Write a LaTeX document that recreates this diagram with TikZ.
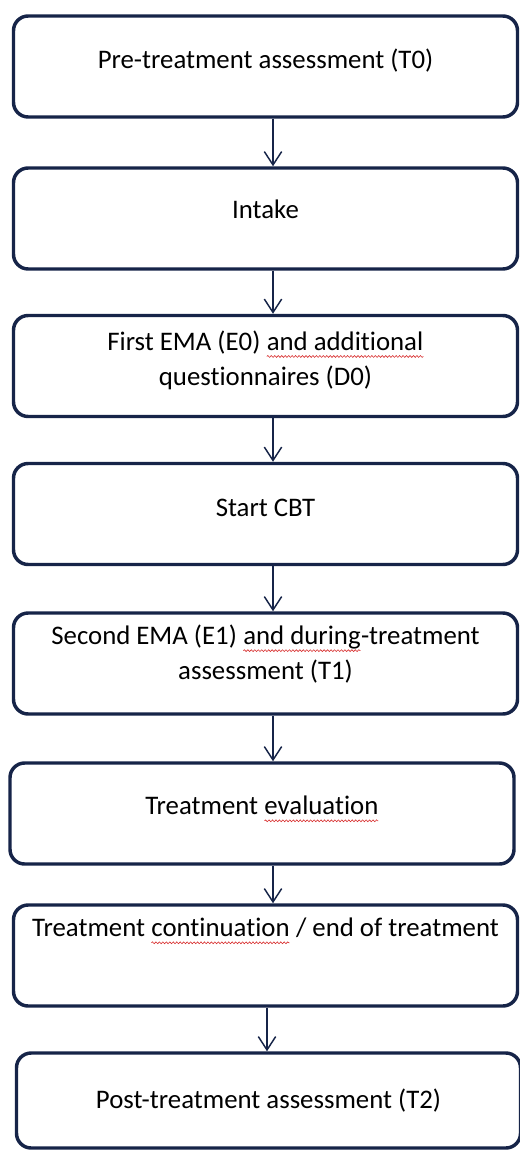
\documentclass[tikz,border=0pt]{standalone}
\usepackage{fontspec}
\setmainfont{Carlito}[Ligatures=NoCommon]
\usetikzlibrary{arrows.meta,decorations.pathmorphing}
\definecolor{boxnavy}{RGB}{22,36,72}
\definecolor{spellred}{RGB}{215,45,45}
\newcommand\spellwave[1]{\tikz[baseline=(w.base),x=1cm,y=1cm]{\node[draw=none,inner sep=0pt,outer sep=0pt,minimum width=0pt,minimum height=0pt,text depth=,text height=,align=left] (w) {#1};
    \draw[spellred,line width=0.45pt,rounded corners=0pt,decorate,decoration={snake,amplitude=0.7pt,segment length=2.6pt}] ([yshift=-4.5pt]w.base west) -- ([yshift=-4.5pt]w.base east);}}
\begin{document}
\begin{tikzpicture}[x=0.75pt,y=-0.75pt,font=\fontsize{20.1}{26}\selectfont,
    stagebox/.style={draw=boxnavy,line width=2.6pt,rounded corners=11pt,minimum width=378pt,minimum height=75.75pt,align=center,inner sep=0pt},
    flow/.style={-{Straight Barb[length=10pt,width=13pt]},draw=boxnavy,line width=1.1pt}]
    \useasboundingbox (0,0) rectangle (520,1151);
    \def\xc{265.5} \def\ax{273}
    \node[stagebox,text depth=11pt] (pre) at (\xc,66.5) {Pre-treatment assessment (T0)};
    \node[stagebox,text depth=14pt] (intake) at (\xc,218.5) {Intake};
    \node[stagebox,text depth=12pt] (ema0) at (\xc,366) {First EMA (E0) \spellwave{and additional}\\questionnaires (D0)};
    \node[stagebox,text depth=10pt] (cbt) at (\xc,514) {Start CBT};
    \node[stagebox,text depth=17pt] (ema1) at (\xc,663.5) {Second EMA (E1) \spellwave{and during}-treatment\\assessment (T1)};
    \node[stagebox,text depth=12pt] (eval) at (262,813.5) {Treatment \spellwave{evaluation}};
    \node[stagebox,text depth=42pt] (cont) at (\xc,955.5) {Treatment \spellwave{continuation} / end of treatment};
    \node[stagebox,minimum height=71.25pt] (post) at (268.5,1100.5) {Post-treatment assessment (T2)};
    \coordinate (arr) at (\ax,0);
    \coordinate (arrlast) at (267,0);
    \draw[flow] (pre.south -| arr) -- (intake.north -| arr);
    \draw[flow] (intake.south -| arr) -- (ema0.north -| arr);
    \draw[flow] (ema0.south -| arr) -- (cbt.north -| arr);
    \draw[flow] (cbt.south -| arr) -- (ema1.north -| arr);
    \draw[flow] (ema1.south -| arr) -- (eval.north -| arr);
    \draw[flow] (eval.south -| arr) -- (cont.north -| arr);
    \draw[flow] (cont.south -| arrlast) -- (post.north -| arrlast);
\end{tikzpicture}
\end{document}
